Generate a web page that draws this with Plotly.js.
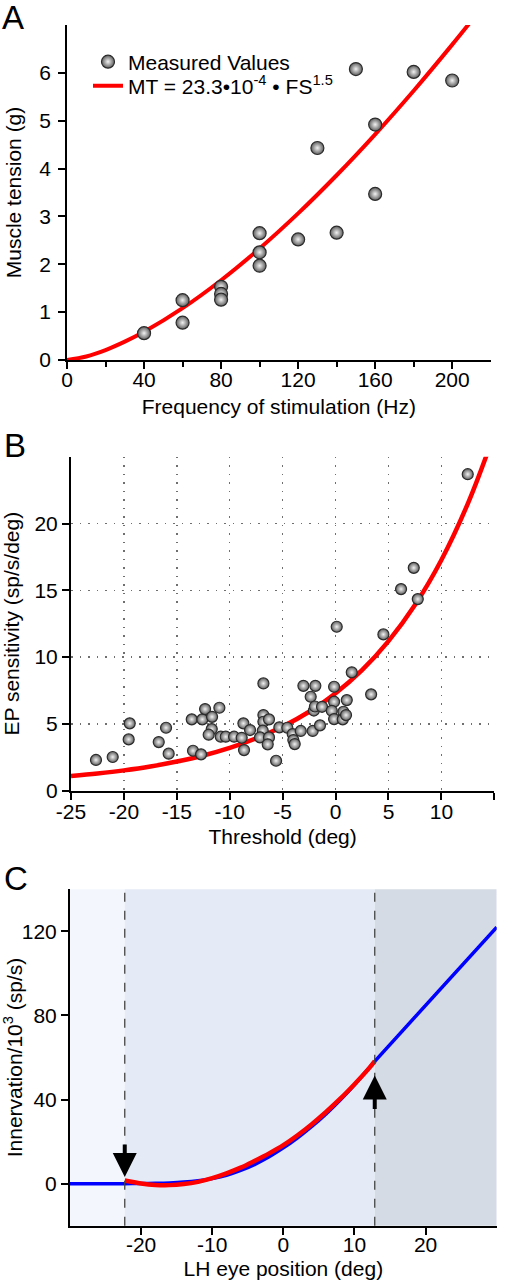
<!DOCTYPE html>
<html><head><meta charset="utf-8">
<script src="https://cdn.plot.ly/plotly-3.0.1.min.js"></script>
<style>html,body{margin:0;padding:0;background:#fff}#chart{width:505px;height:1280px}</style>
</head><body><div id="chart"></div>
<script>
// ---------- Panel A: muscle tension vs stimulation frequency ----------
const freqHz    = [40, 60, 60, 80, 80, 80, 100, 100, 100, 120, 130, 140, 150, 160, 160, 180, 200];
const tensionG  = [0.56, 1.25, 0.78, 1.53, 1.38, 1.26, 2.65, 2.25, 1.97, 2.52, 4.43, 2.66, 6.08, 4.92, 3.47, 6.02, 5.84];
const fitA_x    = [0, 10, 20, 30, 40, 60, 80, 100, 120, 140, 160, 180, 200, 212];
const fitA_y    = [0, 0.074, 0.208, 0.383, 0.589, 1.083, 1.667, 2.33, 3.063, 3.86, 4.716, 5.627, 6.59, 7.19];
const ticksA_x  = [0, 40, 80, 120, 160, 200];
const minorA_x  = [20, 60, 100, 140, 180];
const ticksA_y  = [0, 1, 2, 3, 4, 5, 6];

// ---------- Panel B: EP sensitivity vs threshold ----------
const thresholdDeg = [-22.64,-21.06,-19.45,-19.55,-16.71,-16.02,-15.77,-13.59,-13.47,-12.71,-12.59,-12.33,-11.67,-11.70,-11.99,-10.98,-10.85,-10.38,-9.59,-8.87,-8.71,-8.08,-8.65,-6.82,-6.82,-6.82,-6.29,-6.88,-7.14,-6.29,-6.41,-5.62,-5.31,-4.56,-4.05,-3.99,-3.86,-3.29,-3.04,-2.35,-1.91,-2.16,-1.47,-2.05,-1.95,-1.28,-0.14,-0.14,-0.36,-0.14,0.74,0.68,1.06,0.99,1.53,3.36,0.11,4.52,6.19,7.39,7.77,12.49];
const epSens       = [2.30,2.52,5.04,3.84,3.64,4.71,2.77,5.34,2.99,2.72,5.34,6.11,5.53,4.61,4.19,6.21,4.04,4.04,4.04,3.96,5.04,4.54,3.04,8.03,5.66,5.16,5.34,4.49,3.99,3.99,3.47,2.24,4.74,4.71,4.24,3.79,3.49,4.47,7.85,7.03,7.85,4.47,4.89,6.00,6.30,6.28,7.78,6.66,5.98,5.36,5.91,5.34,6.78,5.66,8.86,7.21,12.27,11.70,15.09,16.68,14.34,23.69];
const fitB_x = [-25, -22.5, -20, -17.5, -15, -12.5, -10, -7.5, -5, -2.5, 0, 2.5, 5, 7.5, 10, 12.5, 14.5];
const fitB_y = [1.10, 1.29, 1.52, 1.81, 2.18, 2.63, 3.20, 3.92, 4.80, 5.91, 7.30, 9.03, 11.20, 13.90, 17.27, 21.49, 25.61];
const ticksB_x = [-25, -20, -15, -10, -5, 0, 5, 10, 15];
const labelsB_x = ['-25', '-20', '-15', '-10', '-5', '0', '5', '10', '15'];
const gridB_x = [-20, -15, -10, -5, 0, 5, 10];
const ticksB_y = [0, 5, 10, 15, 20];
const gridB_y = [5, 10, 15, 20];

// ---------- Panel C: innervation vs LH eye position ----------
const blue_x = [-30, -22.3, -20, -18, -16, -14, -12, -10, -8, -6, -4, -2, 0, 2, 4, 6, 8, 10, 12, 12.85, 30];
const blue_y = [0, 0, 0.05, 0.15, 0.35, 0.75, 1.4, 2.4, 4.0, 6.3, 9.2, 12.8, 17.0, 21.8, 27.2, 33.2, 39.8, 47.0, 54.8, 58.2, 122];
const red_x  = [-22.3, -20, -18, -16, -14, -12, -10, -8, -6, -4, -2, 0, 2, 4, 6, 8, 10, 12, 12.85];
const red_y  = [1.5, 0.1, -0.6, -0.7, -0.2, 0.85, 2.6, 4.9, 7.6, 10.9, 14.4, 18.3, 23.0, 28.3, 34.1, 40.4, 47.3, 54.7, 58.3];
const lowerThreshold = -22.3;
const upperThreshold = 12.85;
const ticksC_x = [-20, -10, 0, 10, 20];
const labelsC_x = ['-20', '-10', '0', '10', '20'];
const ticksC_y = [0, 40, 80, 120];

const FONT = 'Liberation Sans, Arial, Helvetica, sans-serif';
const FS = 21;
const sphere = (size) => ({
  size: size, color: '#5c5c5c',
  gradient: {type: 'radial', color: '#f2f2f2'},
  line: {color: '#2b2b2b', width: 1.2}
});

const traces = [
  {x: fitA_x, y: fitA_y, xaxis: 'x', yaxis: 'y', mode: 'lines', type: 'scatter',
   name: 'MT = 23.3•10<sup>-4</sup> • FS<sup>1.5</sup>', legend: 'legend2',
   line: {color: '#ff0000', width: 4, shape: 'spline'}},
  {x: freqHz, y: tensionG, xaxis: 'x', yaxis: 'y', mode: 'markers', type: 'scatter',
   name: 'Measured Values', legend: 'legend', marker: sphere(13)},
  {x: fitB_x, y: fitB_y, xaxis: 'x2', yaxis: 'y2', mode: 'lines', type: 'scatter', showlegend: false,
   line: {color: '#ff0000', width: 4.5, shape: 'spline'}},
  {x: thresholdDeg, y: epSens, xaxis: 'x2', yaxis: 'y2', mode: 'markers', type: 'scatter', showlegend: false,
   marker: sphere(11)},
  {x: blue_x, y: blue_y, xaxis: 'x3', yaxis: 'y3', mode: 'lines', type: 'scatter', showlegend: false,
   line: {color: '#0000ff', width: 3.5, shape: 'spline', smoothing: 0.6}},
  {x: red_x, y: red_y, xaxis: 'x3', yaxis: 'y3', mode: 'lines', type: 'scatter', showlegend: false,
   line: {color: '#ff0000', width: 4.5, shape: 'spline'}}
];

const axisBase = {
  showline: true, linewidth: 2, linecolor: '#000', ticks: 'outside', ticklen: 7, tickwidth: 2,
  tickcolor: '#000', showgrid: false, zeroline: false, fixedrange: true,
  tickfont: {family: FONT, size: FS, color: '#000'}
};
const titleFont = {family: FONT, size: FS, color: '#000'};
const legendBase = {xanchor: 'left', yanchor: 'middle', bgcolor: 'rgba(0,0,0,0)',
  font: {family: FONT, size: FS, color: '#000'}, itemwidth: 30, borderwidth: 0};
const gridMinor = (vals) => ({tickvals: vals, ticks: '', showgrid: true, gridcolor: '#6f6f6f',
  griddash: '1.5px,7px', gridwidth: 1.5});

const layout = {
  width: 505, height: 1280,
  margin: {l: 0, r: 0, t: 0, b: 0},
  paper_bgcolor: '#fff', plot_bgcolor: 'rgba(0,0,0,0)',
  font: {family: FONT, size: FS, color: '#000'},
  showlegend: true,
  legend: Object.assign({}, legendBase, {x: 88/505, y: 1 - 62/1280}),
  legend2: Object.assign({}, legendBase, {x: 88/505, y: 1 - 86/1280}),
  xaxis: Object.assign({}, axisBase, {
    domain: [0.1327, 0.9717], anchor: 'y', range: [0, 220], tickvals: ticksA_x, ticklabelstandoff: -7,
    minor: {tickvals: minorA_x, ticks: 'outside', ticklen: 5, tickwidth: 2, tickcolor: '#000'},
    title: {text: 'Frequency of stimulation (Hz)', font: titleFont, standoff: 9}
  }),
  yaxis: Object.assign({}, axisBase, {
    domain: [0.71875, 0.98047], anchor: 'x', range: [0, 7], tickvals: ticksA_y, ticklabelstandoff: 3,
    title: {text: 'Muscle tension (g)', font: titleFont, standoff: 12}
  }),
  xaxis2: Object.assign({}, axisBase, {
    domain: [0.1406, 0.9788], anchor: 'y2', range: [-25, 15], tickvals: ticksB_x, ticktext: labelsB_x,
    ticklabelstandoff: -6, minor: gridMinor(gridB_x),
    title: {text: 'Threshold (deg)', font: titleFont, standoff: 7}
  }),
  yaxis2: Object.assign({}, axisBase, {
    domain: [0.38227, 0.6432], anchor: 'x2', range: [0, 25], tickvals: ticksB_y,
    minor: gridMinor(gridB_y),
    title: {text: 'EP sensitivity (sp/s/deg)', font: titleFont, standoff: 10}
  }),
  xaxis3: Object.assign({}, axisBase, {
    domain: [0.1386, 0.9836], anchor: 'y3', range: [-30, 30], tickvals: ticksC_x, ticktext: labelsC_x,
    ticklabelstandoff: -8,
    title: {text: 'LH eye position (deg)', font: titleFont, standoff: 8}
  }),
  yaxis3: Object.assign({}, axisBase, {
    domain: [0.04242, 0.30523], anchor: 'x3', range: [-20, 140], tickvals: ticksC_y,
    title: {text: 'Innervation/10<sup>3</sup> (sp/s)', font: titleFont, standoff: 11}
  }),
  shapes: [
    {type: 'rect', xref: 'x3', yref: 'y3 domain', x0: -30, x1: lowerThreshold, y0: 0, y1: 1,
     fillcolor: '#f3f7fd', line: {width: 0}, layer: 'below'},
    {type: 'rect', xref: 'x3', yref: 'y3 domain', x0: lowerThreshold, x1: upperThreshold, y0: 0, y1: 1,
     fillcolor: '#e4ebf6', line: {width: 0}, layer: 'below'},
    {type: 'rect', xref: 'x3', yref: 'y3 domain', x0: upperThreshold, x1: 30, y0: 0, y1: 1,
     fillcolor: '#d5dbe5', line: {width: 0}, layer: 'below'},
    {type: 'line', xref: 'x3', yref: 'y3 domain', x0: lowerThreshold, x1: lowerThreshold, y0: 0, y1: 1,
     line: {color: '#444', width: 1.3, dash: 'dash'}, layer: 'above'},
    {type: 'line', xref: 'x3', yref: 'y3 domain', x0: upperThreshold, x1: upperThreshold, y0: 0, y1: 1,
     line: {color: '#444', width: 1.3, dash: 'dash'}, layer: 'above'}
  ],
  annotations: [
    {text: 'A', xref: 'paper', yref: 'paper', x: 0, y: 1 - 17/1280, xanchor: 'left', yanchor: 'middle',
     showarrow: false, font: {family: FONT, size: 33, color: '#000'}},
    {text: 'B', xref: 'paper', yref: 'paper', x: 0.004, y: 1 - 446/1280, xanchor: 'left', yanchor: 'middle',
     showarrow: false, font: {family: FONT, size: 33, color: '#000'}},
    {text: 'C', xref: 'paper', yref: 'paper', x: 0.004, y: 1 - 878/1280, xanchor: 'left', yanchor: 'middle',
     showarrow: false, font: {family: FONT, size: 33, color: '#000'}},
    {text: '', xref: 'x3', yref: 'y3', x: lowerThreshold, y: 3.2, ax: 0, ay: -34,
     showarrow: true, arrowhead: 2, arrowwidth: 4, arrowsize: 1.2, arrowcolor: '#000', standoff: 0},
    {text: '', xref: 'x3', yref: 'y3', x: upperThreshold, y: 51.5, ax: 0, ay: 35,
     showarrow: true, arrowhead: 2, arrowwidth: 4, arrowsize: 1.2, arrowcolor: '#000', standoff: 0}
  ]
};

Plotly.newPlot('chart', traces, layout, {staticPlot: true, displayModeBar: false});
</script>
</body></html>
